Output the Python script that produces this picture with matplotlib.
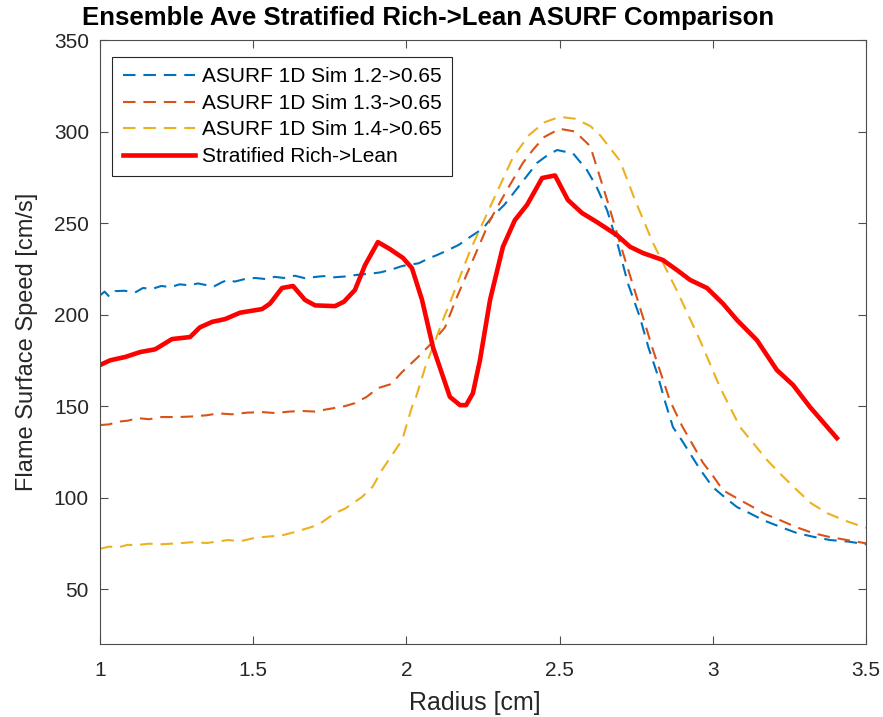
import matplotlib
matplotlib.use('Agg')
import matplotlib.pyplot as plt

plt.rcParams['font.family'] = ['Liberation Sans', 'DejaVu Sans']

# ASURF 1D Sim 1.2 -> 0.65
x_12 = [1.0, 1.015, 1.03, 1.05, 1.08, 1.114, 1.14, 1.17, 1.2, 1.23, 1.26, 1.29, 1.32,
        1.343, 1.37, 1.4, 1.418, 1.44, 1.47, 1.506, 1.54, 1.57, 1.6, 1.636, 1.67, 1.7,
        1.73, 1.76, 1.8, 1.83, 1.86, 1.89, 1.914, 1.95, 1.986, 2.002, 2.04, 2.077,
        2.1, 2.133, 2.17, 2.208, 2.25, 2.283, 2.32, 2.348, 2.39, 2.426, 2.46, 2.492,
        2.544, 2.589, 2.62, 2.655, 2.69, 2.723, 2.762, 2.79, 2.818, 2.845, 2.87, 2.9,
        2.926, 2.96, 3.0, 3.04, 3.079, 3.12, 3.164, 3.22, 3.275, 3.33, 3.383, 3.44, 3.5]
y_12 = [210.5, 212.5, 209.8, 212.8, 213.0, 212.0, 214.5, 214.0, 215.6, 215.0, 216.5,
        216.0, 217.0, 216.2, 215.2, 217.8, 219.0, 218.0, 219.3, 220.0, 219.4, 220.6,
        220.0, 221.2, 219.8, 220.5, 221.0, 220.3, 220.8, 221.5, 222.0, 222.5, 223.0,
        224.5, 226.5, 227.0, 228.0, 231.0, 232.5, 235.0, 238.0, 242.4, 247.0, 254.0,
        260.0, 266.0, 275.0, 282.8, 287.0, 289.9, 288.0, 279.0, 270.0, 257.0, 238.0,
        217.0, 198.6, 182.0, 168.0, 152.0, 138.5, 131.0, 124.0, 115.0, 105.7, 100.0,
        94.8, 91.5, 87.7, 84.0, 80.6, 78.5, 76.8, 76.0, 74.5]

# ASURF 1D Sim 1.3 -> 0.65
x_13 = [1.0, 1.03, 1.06, 1.09, 1.124, 1.16, 1.2, 1.255, 1.3, 1.35, 1.385, 1.43, 1.48,
        1.529, 1.57, 1.62, 1.659, 1.7, 1.74, 1.767, 1.8, 1.832, 1.87, 1.907, 1.95, 1.986,
        2.038, 2.08, 2.126, 2.165, 2.217, 2.273, 2.328, 2.38, 2.413, 2.45, 2.5, 2.55,
        2.6, 2.655, 2.697, 2.762, 2.805, 2.86, 2.9, 2.926, 2.968, 3.0, 3.033, 3.08,
        3.131, 3.17, 3.219, 3.27, 3.327, 3.38, 3.438, 3.5]
y_13 = [139.6, 140.0, 141.5, 142.0, 143.4, 142.8, 144.0, 144.0, 144.3, 145.0, 146.0,
        145.5, 146.4, 146.7, 146.2, 147.0, 147.3, 147.0, 148.2, 149.0, 150.0, 151.6,
        155.0, 159.8, 162.0, 168.6, 176.8, 184.0, 193.0, 209.6, 229.8, 251.6, 268.0,
        282.8, 290.0, 297.0, 301.5, 300.0, 292.0, 262.6, 239.0, 204.0, 180.6, 153.0,
        139.0, 131.4, 119.0, 112.0, 104.0, 99.5, 94.8, 91.0, 87.7, 84.0, 80.6, 78.5,
        76.8, 75.0]

# ASURF 1D Sim 1.4 -> 0.65
x_14 = [1.0, 1.03, 1.06, 1.09, 1.114, 1.16, 1.2, 1.255, 1.3, 1.35, 1.418, 1.46, 1.5,
        1.529, 1.57, 1.6, 1.636, 1.692, 1.72, 1.767, 1.8, 1.855, 1.89, 1.92, 1.986,
        2.018, 2.028, 2.061, 2.126, 2.133, 2.208, 2.273, 2.348, 2.4, 2.45, 2.5, 2.55,
        2.6, 2.632, 2.697, 2.746, 2.805, 2.883, 2.958, 3.023, 3.089, 3.177, 3.22, 3.275,
        3.32, 3.373, 3.43, 3.49, 3.5]
y_14 = [72.0, 73.2, 72.8, 74.2, 74.0, 74.8, 74.5, 75.0, 75.6, 75.2, 76.8, 76.2, 77.8,
        78.4, 79.0, 79.6, 81.2, 84.0, 86.0, 91.5, 94.0, 100.3, 106.0, 115.0, 131.4,
        149.5, 153.0, 171.0, 200.0, 202.5, 235.0, 258.7, 286.0, 298.0, 305.0, 308.0,
        307.0, 303.0, 298.0, 284.0, 262.6, 239.0, 213.0, 186.0, 160.4, 138.5, 120.5,
        113.0, 104.0, 97.0, 91.5, 87.5, 84.0, 83.5]

# Stratified Rich -> Lean
x_st = [1.0, 1.033, 1.082, 1.131, 1.18, 1.235, 1.294, 1.326, 1.366, 1.408, 1.457, 1.529,
        1.555, 1.594, 1.63, 1.669, 1.702, 1.767, 1.796, 1.832, 1.865, 1.907, 1.946,
        1.989, 2.018, 2.051, 2.087, 2.142, 2.175, 2.195, 2.217, 2.24, 2.273, 2.315,
        2.354, 2.394, 2.443, 2.485, 2.527, 2.573, 2.622, 2.687, 2.73, 2.772, 2.837,
        2.883, 2.926, 2.981, 3.033, 3.079, 3.144, 3.209, 3.262, 3.317, 3.405]
y_st = [172.4, 175.0, 176.8, 179.5, 181.0, 186.6, 187.7, 193.0, 196.0, 197.5, 201.0,
        203.0, 206.0, 214.5, 215.6, 208.0, 205.0, 204.6, 207.0, 213.4, 227.0, 239.6,
        235.8, 230.9, 225.4, 208.0, 182.0, 155.0, 150.5, 150.5, 157.0, 175.0, 208.0,
        237.0, 251.6, 260.0, 274.6, 276.0, 262.6, 255.5, 250.5, 243.4, 237.0, 233.6,
        229.8, 224.3, 218.9, 214.5, 206.0, 197.0, 186.0, 169.7, 161.5, 149.5, 132.5]

labels = ['ASURF 1D Sim 1.2->0.65', 'ASURF 1D Sim 1.3->0.65',
          'ASURF 1D Sim 1.4->0.65', 'Stratified Rich->Lean']

fig = plt.figure(figsize=(8.83, 7.17), dpi=100)
ax = fig.add_axes([100 / 883, 1 - 644 / 717, 766 / 883, 604 / 717])

dash = (0, (6, 3.8))
ax.plot(x_12, y_12, color='#0072BD', lw=1.5, linestyle=dash, label=labels[0])
ax.plot(x_13, y_13, color='#D95319', lw=1.5, linestyle=dash, label=labels[1])
ax.plot(x_14, y_14, color='#EDB120', lw=1.5, linestyle=dash, label=labels[2])
ax.plot(x_st, y_st, color='#FF0000', lw=3.3, label=labels[3])

ax.set_xlim(1, 3.5)
ax.set_ylim(20, 350)
ax.set_xticks([1, 1.5, 2, 2.5, 3, 3.5])
ax.set_xticklabels(['1', '1.5', '2', '2.5', '3', '3.5'])
ax.set_yticks([50, 100, 150, 200, 250, 300, 350])

ax.tick_params(direction='in', top=True, right=True, length=6, width=0.8,
               color='0.3', labelsize=15, labelcolor='0.15')
ax.tick_params(axis='x', pad=12)
ax.tick_params(axis='y', pad=8)
for s in ax.spines.values():
    s.set_color('0.3')
    s.set_linewidth(0.8)

ax.set_xlabel('Radius [cm]', fontsize=18, color='0.15', va='center')
ax.xaxis.set_label_coords((475 - 100) / 766, -(703 - 644) / 604)
ax.set_ylabel('Flame Surface Speed [cm/s]', fontsize=17, color='0.15', va='center')
ax.yaxis.set_label_coords(-(100 - 27) / 766, 0.5)

fig.text(428 / 883, 1 - 18 / 717, 'Ensemble Ave Stratified Rich->Lean ASURF Comparison',
         ha='center', va='center', fontsize=18.5, fontweight='bold')

leg = ax.legend(loc='upper left', bbox_to_anchor=(0.016, 0.972), fontsize=15,
                frameon=True, fancybox=False, borderpad=0.5, labelspacing=0.36,
                handlelength=3.45, handletextpad=0.35, borderaxespad=0)
leg.get_frame().set_edgecolor('0.15')
leg.get_frame().set_linewidth(0.8)
leg.get_frame().set_alpha(1)

fig.savefig('out.png', dpi=100)
